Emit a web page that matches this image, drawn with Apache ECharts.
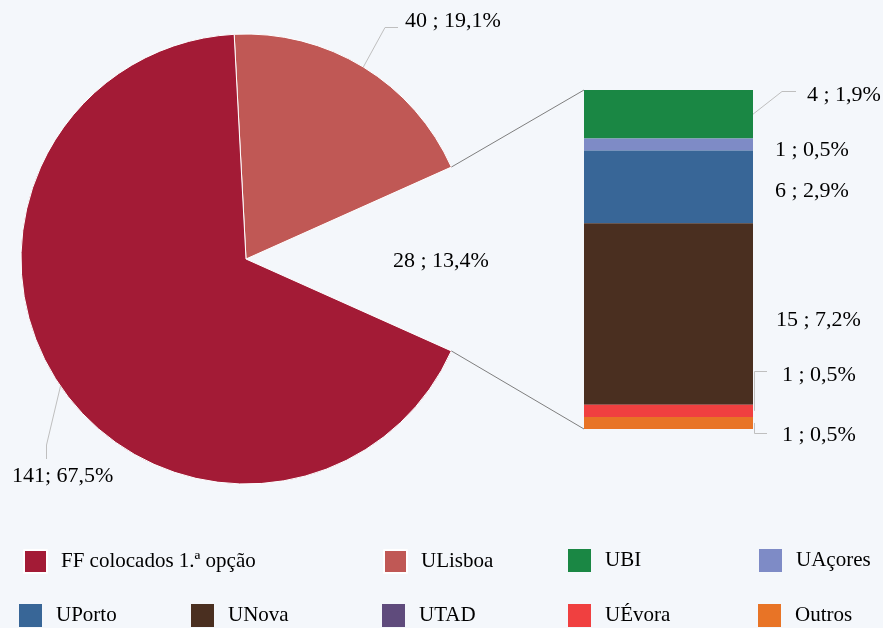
<!DOCTYPE html>
<html><head><meta charset="utf-8">
<script src="https://cdn.jsdelivr.net/npm/echarts@6/dist/echarts.min.js"></script>
<style>html,body{margin:0;padding:0;background:#f4f7fb}#c{width:883px;height:628px}</style>
</head><body><div id="c"></div>
<script>
// ---- data ----
const pieNames = ['ULisboa', '', 'FF colocados 1.ª opção'];
const pieValues = [40, 28, 141];
const barNames = ['UBI', 'UAçores', 'UPorto', 'UNova', 'UTAD', 'UÉvora', 'Outros'];
const barValues = [4, 1, 6, 15, 0, 1, 1];
const legendRow1 = ['FF colocados 1.ª opção', 'ULisboa', 'UBI', 'UAçores'];
const legendRow2 = ['UPorto', 'UNova', 'UTAD', 'UÉvora', 'Outros'];

// ---- styles ----
const colors = {
  'FF colocados 1.ª opção': '#a31b36', 'ULisboa': '#c05855', 'UBI': '#1a8744',
  'UAçores': '#7e8bc6', 'UPorto': '#386697', 'UNova': '#4a2f20', 'UTAD': '#5f4b7c',
  'UÉvora': '#f04040', 'Outros': '#e87426'
};
const FONT = "'Liberation Serif', 'Times New Roman', serif";
const total = pieValues.reduce((a, b) => a + b, 0);
const barTotal = barValues.reduce((a, b) => a + b, 0);
const pct = v => (v / total * 100).toFixed(1).replace('.', ',') + '%';
const fmt = v => v + (v >= 100 ? '; ' : ' ; ') + pct(v);

const cx = 246, cy = 259, R = 225;
const startAngle = 360 * (pieValues[1] / 2 + pieValues[0]) / total;
const grid = {left: 584, top: 90, width: 169, height: 339};
const barRight = grid.left + grid.width;

// label placement (layout only)
const pieLabelAt = [[405, 21], [393, 261], [12, 476]];
const barLabelOffset = {
  'UBI': [32, -19], 'UAçores': [0, 6], 'UPorto': [0, 4], 'UNova': [1, 6],
  'UTAD': [0, 0], 'UÉvora': [7, -36], 'Outros': [7, 12]
};

const legends = [];
const row1Left = [23, 383, 568, 759], row2Left = [19, 191, 382, 568, 758];
legendRow1.forEach((n, i) => legends.push({name: n, left: row1Left[i], top: 549}));
legendRow2.forEach((n, i) => legends.push({name: n, left: row2Left[i], top: 604}));

const chart = echarts.init(document.getElementById('c'), null, {renderer: 'canvas'});
const option = {
  backgroundColor: '#f4f7fb',
  animation: false,
  grid: {left: grid.left, top: grid.top, width: grid.width, height: grid.height},
  xAxis: {type: 'category', data: [''], show: false},
  yAxis: {type: 'value', min: 0, max: barTotal, inverse: true, show: false},
  legend: legends.map(l => ({
    data: [l.name], left: l.left, top: l.top, padding: 0, itemWidth: 23, itemHeight: 23,
    icon: 'rect', selectedMode: false,
    textStyle: {fontSize: 21, fontFamily: FONT, color: '#000', padding: [0, 0, 0, 9]}
  })),
  series: [{
    type: 'pie', center: [cx, cy], radius: R, startAngle: startAngle, clockwise: true,
    avoidLabelOverlap: false, silent: true, emphasis: {disabled: true},
    data: pieNames.map((n, i) => ({
      name: n, value: pieValues[i],
      itemStyle: n ? {color: colors[n], borderColor: '#fff', borderWidth: 1}
                   : {color: 'rgba(0,0,0,0)', borderWidth: 0}
    })),
    label: {show: true, position: 'inside', formatter: p => fmt(p.value),
            color: '#000', fontSize: 22, fontFamily: FONT},
    labelLine: {show: false},
    labelLayout: p => ({x: pieLabelAt[p.dataIndex][0], y: pieLabelAt[p.dataIndex][1],
                        align: 'left', verticalAlign: 'middle'})
  }].concat(barNames.map((n, i) => ({
    type: 'bar', name: n, stack: 'rest', barWidth: '100%', silent: true,
    data: [barValues[i]], itemStyle: {color: colors[n]},
    label: {show: barValues[i] > 0, position: 'right', distance: 22,
            offset: barLabelOffset[n], formatter: p => fmt(p.value),
            color: '#000', fontSize: 22, fontFamily: FONT}
  })))
};
chart.setOption(option);

// ---- leader and connector lines, from library scales ----
const yPix = v => chart.convertToPixel({yAxisIndex: 0}, v);
const polar = (deg, r) => { const a = deg * Math.PI / 180; return [cx + r * Math.cos(a), cy - r * Math.sin(a)]; };
const half = 180 * pieValues[1] / total;
const yTop = yPix(0), yBot = yPix(barTotal);
const lines = [];
const dark = '#7f7f7f', light = '#bfbfbf';
lines.push({pts: [polar(half, R), [grid.left, yTop]], c: dark});
lines.push({pts: [polar(-half, R), [grid.left, yBot]], c: dark});
// pie leaders
const lisMid = startAngle - 180 * pieValues[0] / total;
const ffMid = -half - 180 * pieValues[2] / total;
const L0 = pieLabelAt[0], L2 = pieLabelAt[2];
lines.push({pts: [polar(lisMid, R), [L0[0] - 20, L0[1] + 6.5], [L0[0] - 7, L0[1] + 6.5]], c: light});
lines.push({pts: [polar(ffMid, R), [46.5, L2[1] - 31], [46.5, L2[1] - 17]], c: light});
// bar leaders
let cum = 0; const segMid = {};
barNames.forEach((n, i) => { segMid[n] = yPix(cum + barValues[i] / 2); cum += barValues[i]; });
const labPos = n => [barRight + 22 + barLabelOffset[n][0], segMid[n] + barLabelOffset[n][1]];
(function () {
  const p = labPos('UBI');
  lines.push({pts: [[barRight, segMid['UBI']], [p[0] - 25, Math.round(p[1] - 4) + 0.5], [p[0] - 11, Math.round(p[1] - 4) + 0.5]], c: light});
  const e = labPos('UÉvora');
  lines.push({pts: [[barRight + 1.5, segMid['UÉvora']], [barRight + 1.5, Math.round(e[1] - 4) + 0.5], [e[0] - 15, Math.round(e[1] - 4) + 0.5]], c: light});
  const o = labPos('Outros');
  lines.push({pts: [[barRight + 1.5, segMid['Outros']], [barRight + 1.5, Math.round(o[1] - 2) + 0.5], [o[0] - 15, Math.round(o[1] - 2) + 0.5]], c: light});
})();
chart.setOption({
  graphic: lines.map(l => ({type: 'polyline', silent: true, z: 10,
    shape: {points: l.pts}, style: {stroke: l.c, lineWidth: 1, fill: null}}))
});
</script></body></html>
